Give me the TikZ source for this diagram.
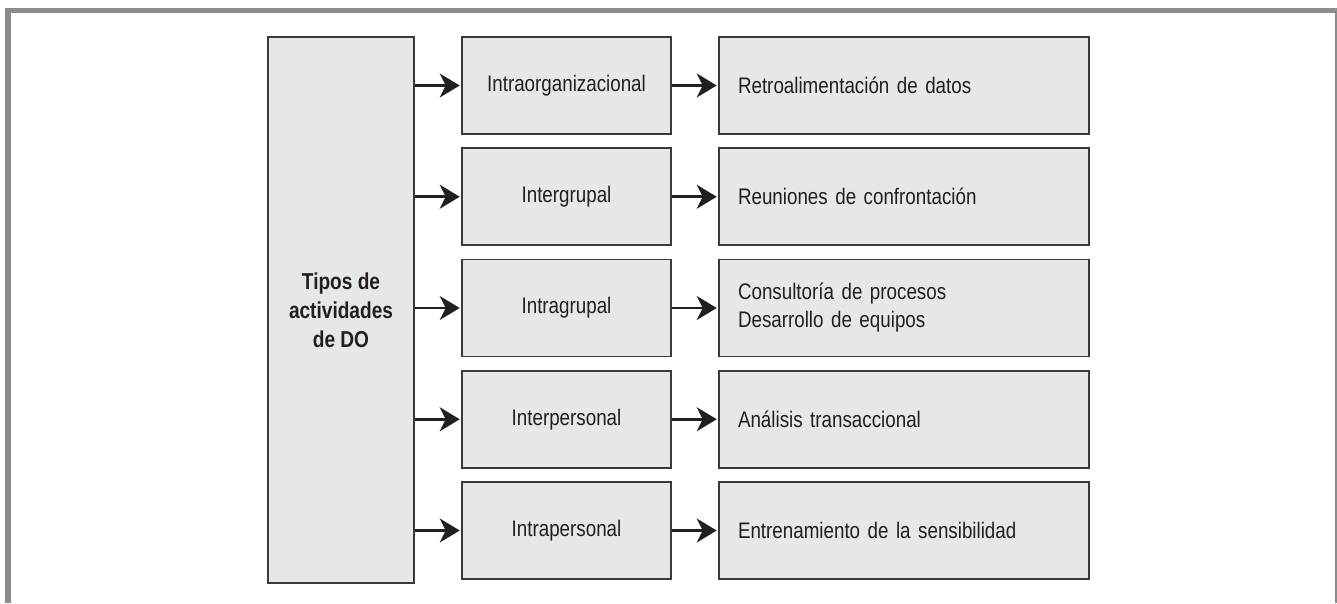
\documentclass[tikz,border=0pt]{standalone}
\usepackage{fontspec}
\setmainfont{Liberation Sans}
\newfontfamily\cnd[FakeStretch=0.835]{Liberation Sans}
\newfontfamily\cndb[FakeStretch=0.83]{Liberation Sans}
\usetikzlibrary{arrows.meta}
\definecolor{boxfill}{HTML}{E6E7E8}
\definecolor{boxline}{HTML}{3A3A3A}
\definecolor{ink}{HTML}{231F20}
\definecolor{framegrey}{HTML}{8C8C8F}
\begin{document}
\begin{tikzpicture}[x=1pt,y=-1pt,
 boxbase/.style={draw=boxline, line width=1.6pt, fill=boxfill, inner sep=0pt, text=ink, font=\cnd\fontsize{22.5}{28}\selectfont},
 mbox/.style={boxbase, minimum width=209pt, minimum height=97pt},
 rbox/.style={boxbase, minimum height=97pt, text width=332pt, inner xsep=19pt, align=left},
 lbox/.style={boxbase, minimum width=146pt, minimum height=546pt, align=center, font=\cndb\bfseries\fontsize{23}{29}\selectfont},
 arr/.style={draw=ink, line width=2.6pt, -{Stealth[length=20pt,width=24pt,inset=6pt]}, shorten >=1.5pt}
]
\useasboundingbox (0,0) rectangle (1337,603);
% frame
\fill[framegrey] (5,8) rectangle (1337,13);
\fill[framegrey] (5,8) rectangle (11,603);
\draw[framegrey, line width=1.5pt] (1336,13) -- (1336,603);

\node[lbox] (L) at (341,310) {Tipos de\\actividades\\de DO};

\node[mbox] (M1) at (566.5,85.5) {Intraorganizacional};
\node[mbox] (M2) at (566.5,196.75) {Intergrupal};
\node[mbox] (M3) at (566.5,308) {Intragrupal};
\node[mbox] (M4) at (566.5,419.25) {Interpersonal};
\node[mbox] (M5) at (566.5,530.5) {Intrapersonal};

\node[rbox] (R1) at (904,85.5) {Retroalimentación de datos};
\node[rbox] (R2) at (904,196.75) {Reuniones de confrontación};
\node[rbox] (R3) at (904,308) {Consultoría de procesos\\Desarrollo de equipos};
\node[rbox] (R4) at (904,419.25) {Análisis transaccional};
\node[rbox] (R5) at (904,530.5) {Entrenamiento de la sensibilidad};

\foreach \i in {1,...,5}{
  \draw[arr] (L.east |- M\i.west) -- (M\i.west);
  \draw[arr] (M\i.east) -- (R\i.west);
}
\end{tikzpicture}
\end{document}
